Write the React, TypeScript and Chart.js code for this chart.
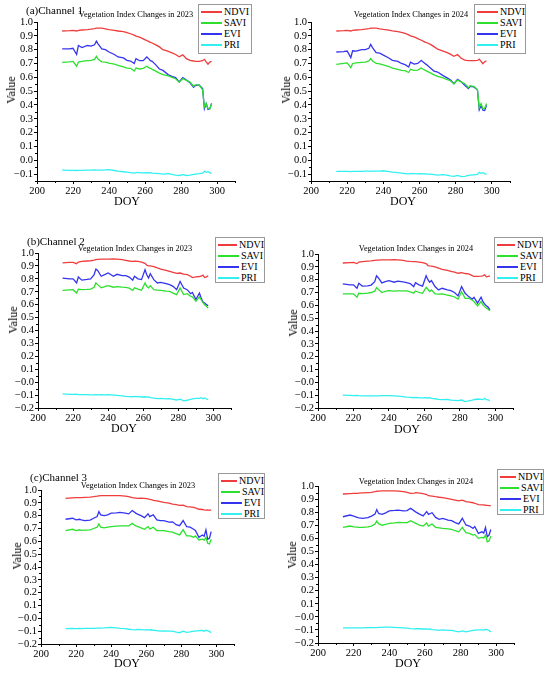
import { useEffect, useRef } from "react";
import { Chart, registerables } from "chart.js";

Chart.register(...registerables);

const FONT = "'Liberation Serif', 'Times New Roman', serif";
Chart.defaults.font.family = FONT;
Chart.defaults.color = "#000";

const SERIES = ["NDVI", "SAVI", "EVI", "PRI"];
const COLORS = ["#f03c3c", "#2ee02e", "#3535f0", "#33f0f0"];

const DOY = [
  214, 218, 220, 222, 223, 225, 228, 230, 232, 233, 234, 236, 238, 240, 243, 245, 248, 250, 252, 254,
  255, 257, 259, 261, 262, 263, 264, 266, 268, 270, 273, 275, 277, 279, 281, 283, 285, 287, 288, 290,
  292, 293, 294, 295, 296, 297,
];

// Channel 1, 2023
const CH1_2023_NDVI = [
  0.935, 0.937, 0.94, 0.935, 0.94, 0.942, 0.945, 0.948, 0.952, 0.955, 0.956, 0.955, 0.95, 0.945, 0.94, 0.935, 0.93, 0.923, 0.915, 0.905,
  0.898, 0.89, 0.878, 0.865, 0.86, 0.853, 0.848, 0.835, 0.82, 0.8, 0.787, 0.777, 0.765, 0.748, 0.762, 0.735, 0.722, 0.718, 0.715, 0.715,
  0.72, 0.73, 0.712, 0.695, 0.71, 0.715,
];
const CH1_2023_SAVI = [
  0.708, 0.712, 0.715, 0.68, 0.71, 0.715, 0.72, 0.722, 0.73, 0.752, 0.73, 0.712, 0.71, 0.703, 0.695, 0.687, 0.675, 0.667, 0.665, 0.645,
  0.667, 0.66, 0.665, 0.68, 0.67, 0.665, 0.657, 0.645, 0.63, 0.62, 0.61, 0.6, 0.59, 0.565, 0.59, 0.578, 0.566, 0.535, 0.545, 0.545,
  0.51, 0.385, 0.41, 0.375, 0.372, 0.41,
];
const CH1_2023_EVI = [
  0.805, 0.805, 0.81, 0.765, 0.83, 0.815, 0.83, 0.825, 0.835, 0.862, 0.84, 0.805, 0.8, 0.783, 0.765, 0.747, 0.74, 0.723, 0.718, 0.7,
  0.735, 0.72, 0.72, 0.747, 0.735, 0.72, 0.715, 0.69, 0.66, 0.65, 0.618, 0.607, 0.598, 0.566, 0.598, 0.58, 0.56, 0.527, 0.54, 0.545,
  0.518, 0.373, 0.41, 0.368, 0.372, 0.41,
];
const CH1_2023_PRI = [
  -0.072, -0.073, -0.073, -0.074, -0.073, -0.073, -0.072, -0.072, -0.07, -0.072, -0.071, -0.072, -0.07, -0.068, -0.074, -0.078, -0.083, -0.086, -0.089, -0.093,
  -0.09, -0.09, -0.091, -0.089, -0.092, -0.09, -0.093, -0.095, -0.097, -0.1, -0.097, -0.102, -0.107, -0.11, -0.104, -0.11, -0.108, -0.102, -0.1, -0.097,
  -0.093, -0.08, -0.087, -0.082, -0.09, -0.094,
];

// Channel 1, 2024
const CH1_2024_NDVI = [
  0.935, 0.937, 0.94, 0.935, 0.94, 0.942, 0.945, 0.948, 0.952, 0.955, 0.956, 0.955, 0.95, 0.946, 0.941, 0.936, 0.93, 0.925, 0.917, 0.907,
  0.9, 0.892, 0.88, 0.868, 0.862, 0.855, 0.85, 0.838, 0.822, 0.803, 0.79, 0.78, 0.768, 0.752, 0.765, 0.738, 0.725, 0.72, 0.72, 0.72,
  0.722, 0.732, 0.715, 0.698, 0.712, 0.72,
];
const CH1_2024_SAVI = [
  0.694, 0.7, 0.704, 0.67, 0.7, 0.705, 0.708, 0.71, 0.718, 0.735, 0.718, 0.7, 0.697, 0.69, 0.678, 0.667, 0.657, 0.65, 0.648, 0.635,
  0.658, 0.65, 0.652, 0.667, 0.658, 0.652, 0.645, 0.632, 0.618, 0.607, 0.596, 0.585, 0.575, 0.553, 0.58, 0.567, 0.554, 0.525, 0.538, 0.535,
  0.51, 0.38, 0.41, 0.373, 0.375, 0.41,
];
const CH1_2024_EVI = [
  0.783, 0.785, 0.79, 0.742, 0.792, 0.79, 0.8, 0.8, 0.81, 0.838, 0.815, 0.778, 0.775, 0.76, 0.74, 0.723, 0.715, 0.7, 0.692, 0.675,
  0.71, 0.695, 0.7, 0.723, 0.71, 0.7, 0.69, 0.668, 0.645, 0.638, 0.612, 0.598, 0.583, 0.554, 0.585, 0.568, 0.542, 0.518, 0.535, 0.53,
  0.51, 0.365, 0.398, 0.362, 0.36, 0.398,
];
const CH1_2024_PRI = [
  -0.08, -0.081, -0.08, -0.082, -0.08, -0.081, -0.08, -0.079, -0.078, -0.08, -0.078, -0.079, -0.078, -0.076, -0.082, -0.086, -0.09, -0.093, -0.096, -0.099,
  -0.097, -0.097, -0.098, -0.096, -0.099, -0.097, -0.1, -0.101, -0.104, -0.107, -0.104, -0.108, -0.113, -0.117, -0.11, -0.118, -0.116, -0.11, -0.108, -0.105,
  -0.102, -0.088, -0.095, -0.09, -0.097, -0.102,
];

// Channel 2, 2023
const CH2_2023_NDVI = [
  0.923, 0.927, 0.928, 0.917, 0.93, 0.935, 0.938, 0.94, 0.945, 0.948, 0.95, 0.952, 0.953, 0.953, 0.954, 0.953, 0.948, 0.943, 0.938, 0.935,
  0.936, 0.935, 0.93, 0.92, 0.905, 0.9, 0.9, 0.895, 0.885, 0.876, 0.866, 0.858, 0.85, 0.842, 0.845, 0.836, 0.832, 0.82, 0.81, 0.815,
  0.818, 0.82, 0.828, 0.81, 0.815, 0.824,
];
const CH2_2023_SAVI = [
  0.71, 0.714, 0.716, 0.69, 0.72, 0.716, 0.718, 0.72, 0.735, 0.768, 0.755, 0.73, 0.74, 0.747, 0.735, 0.74, 0.736, 0.734, 0.728, 0.71,
  0.73, 0.72, 0.712, 0.768, 0.74, 0.73, 0.747, 0.716, 0.712, 0.71, 0.705, 0.703, 0.69, 0.678, 0.73, 0.678, 0.685, 0.665, 0.66, 0.626,
  0.66, 0.638, 0.615, 0.6, 0.588, 0.574,
];
const CH2_2023_EVI = [
  0.806, 0.8, 0.8, 0.768, 0.814, 0.79, 0.795, 0.8, 0.832, 0.876, 0.865, 0.82, 0.832, 0.845, 0.82, 0.835, 0.825, 0.825, 0.814, 0.79,
  0.82, 0.8, 0.794, 0.871, 0.832, 0.806, 0.84, 0.794, 0.768, 0.773, 0.763, 0.755, 0.742, 0.716, 0.78, 0.729, 0.716, 0.685, 0.695, 0.64,
  0.69, 0.652, 0.62, 0.613, 0.6, 0.592,
];
const CH2_2023_PRI = [
  -0.09, -0.094, -0.095, -0.093, -0.096, -0.097, -0.097, -0.098, -0.098, -0.097, -0.098, -0.097, -0.098, -0.097, -0.1, -0.102, -0.106, -0.11, -0.112, -0.113,
  -0.11, -0.112, -0.115, -0.113, -0.116, -0.114, -0.12, -0.124, -0.127, -0.126, -0.13, -0.128, -0.133, -0.138, -0.132, -0.145, -0.14, -0.133, -0.13, -0.125,
  -0.125, -0.12, -0.128, -0.122, -0.13, -0.136,
];

// Channel 2, 2024
const CH2_2024_NDVI = [
  0.93, 0.933, 0.935, 0.925, 0.937, 0.94, 0.944, 0.946, 0.95, 0.952, 0.953, 0.954, 0.955, 0.955, 0.956, 0.955, 0.95, 0.945, 0.942, 0.94,
  0.94, 0.937, 0.933, 0.925, 0.91, 0.907, 0.906, 0.9, 0.89, 0.88, 0.872, 0.865, 0.858, 0.85, 0.855, 0.848, 0.845, 0.832, 0.825, 0.825,
  0.828, 0.83, 0.838, 0.822, 0.825, 0.83,
];
const CH2_2024_SAVI = [
  0.69, 0.69, 0.69, 0.663, 0.694, 0.692, 0.695, 0.7, 0.71, 0.738, 0.725, 0.7, 0.708, 0.715, 0.71, 0.712, 0.712, 0.713, 0.705, 0.694,
  0.712, 0.7, 0.694, 0.74, 0.725, 0.707, 0.72, 0.69, 0.688, 0.69, 0.68, 0.673, 0.665, 0.648, 0.707, 0.655, 0.655, 0.64, 0.63, 0.596,
  0.63, 0.604, 0.59, 0.578, 0.57, 0.558,
];
const CH2_2024_EVI = [
  0.767, 0.76, 0.76, 0.733, 0.772, 0.75, 0.752, 0.758, 0.785, 0.83, 0.815, 0.775, 0.785, 0.793, 0.78, 0.788, 0.782, 0.777, 0.77, 0.746,
  0.777, 0.76, 0.75, 0.83, 0.8, 0.78, 0.793, 0.746, 0.72, 0.733, 0.72, 0.715, 0.7, 0.673, 0.746, 0.694, 0.668, 0.648, 0.663, 0.617,
  0.663, 0.63, 0.61, 0.596, 0.585, 0.565,
];
const CH2_2024_PRI = [
  -0.1, -0.102, -0.103, -0.101, -0.104, -0.105, -0.105, -0.105, -0.106, -0.105, -0.105, -0.104, -0.104, -0.103, -0.106, -0.108, -0.112, -0.115, -0.117, -0.12,
  -0.118, -0.12, -0.121, -0.12, -0.122, -0.12, -0.125, -0.128, -0.132, -0.135, -0.133, -0.138, -0.14, -0.143, -0.138, -0.15, -0.145, -0.138, -0.134, -0.13,
  -0.132, -0.135, -0.125, -0.135, -0.137, -0.142,
];

// Channel 3, 2023
const CH3_2023_NDVI = [
  0.935, 0.938, 0.94, 0.94, 0.941, 0.943, 0.945, 0.948, 0.952, 0.955, 0.956, 0.956, 0.956, 0.956, 0.956, 0.956, 0.953, 0.948, 0.94, 0.937,
  0.935, 0.936, 0.935, 0.93, 0.927, 0.925, 0.92, 0.915, 0.91, 0.904, 0.897, 0.89, 0.886, 0.88, 0.882, 0.87, 0.868, 0.865, 0.86, 0.85,
  0.848, 0.845, 0.843, 0.845, 0.842, 0.845,
];
const CH3_2023_SAVI = [
  0.684, 0.694, 0.684, 0.69, 0.686, 0.688, 0.69, 0.7, 0.71, 0.736, 0.71, 0.705, 0.71, 0.715, 0.718, 0.72, 0.72, 0.72, 0.74, 0.72,
  0.716, 0.705, 0.694, 0.715, 0.697, 0.703, 0.71, 0.684, 0.684, 0.684, 0.676, 0.672, 0.66, 0.65, 0.69, 0.642, 0.642, 0.632, 0.642, 0.611,
  0.617, 0.61, 0.632, 0.585, 0.58, 0.617,
];
const CH3_2023_EVI = [
  0.772, 0.78, 0.767, 0.772, 0.768, 0.762, 0.765, 0.78, 0.793, 0.832, 0.806, 0.8, 0.806, 0.82, 0.822, 0.825, 0.82, 0.814, 0.84, 0.82,
  0.812, 0.8, 0.785, 0.815, 0.793, 0.8, 0.806, 0.767, 0.762, 0.762, 0.75, 0.752, 0.73, 0.722, 0.762, 0.715, 0.71, 0.694, 0.684, 0.632,
  0.65, 0.64, 0.69, 0.617, 0.624, 0.676,
];
const CH3_2023_PRI = [
  -0.08, -0.079, -0.08, -0.079, -0.08, -0.079, -0.078, -0.078, -0.076, -0.077, -0.076, -0.075, -0.073, -0.071, -0.075, -0.078, -0.08, -0.085, -0.088, -0.09,
  -0.086, -0.088, -0.09, -0.088, -0.091, -0.089, -0.093, -0.096, -0.1, -0.097, -0.1, -0.1, -0.108, -0.112, -0.1, -0.11, -0.106, -0.1, -0.1, -0.096,
  -0.095, -0.1, -0.092, -0.097, -0.102, -0.113,
];

// Channel 3, 2024
const CH3_2024_NDVI = [
  0.939, 0.942, 0.944, 0.944, 0.945, 0.947, 0.95, 0.952, 0.957, 0.96, 0.961, 0.962, 0.962, 0.962, 0.962, 0.961, 0.957, 0.952, 0.944, 0.946,
  0.949, 0.946, 0.942, 0.935, 0.926, 0.925, 0.923, 0.918, 0.914, 0.911, 0.904, 0.898, 0.892, 0.886, 0.892, 0.88, 0.876, 0.872, 0.868, 0.857,
  0.855, 0.855, 0.853, 0.852, 0.85, 0.85,
];
const CH3_2024_SAVI = [
  0.684, 0.694, 0.688, 0.686, 0.684, 0.684, 0.688, 0.694, 0.71, 0.732, 0.712, 0.7, 0.706, 0.714, 0.718, 0.722, 0.72, 0.72, 0.735, 0.72,
  0.714, 0.7, 0.694, 0.718, 0.694, 0.702, 0.71, 0.684, 0.68, 0.676, 0.672, 0.668, 0.658, 0.65, 0.684, 0.643, 0.638, 0.625, 0.63, 0.6,
  0.607, 0.603, 0.625, 0.574, 0.58, 0.617,
];
const CH3_2024_EVI = [
  0.765, 0.778, 0.77, 0.76, 0.757, 0.753, 0.758, 0.77, 0.786, 0.82, 0.79, 0.783, 0.795, 0.81, 0.813, 0.816, 0.81, 0.812, 0.83, 0.81,
  0.8, 0.785, 0.772, 0.805, 0.783, 0.79, 0.796, 0.76, 0.745, 0.753, 0.74, 0.735, 0.72, 0.71, 0.753, 0.702, 0.694, 0.676, 0.69, 0.638,
  0.65, 0.64, 0.683, 0.612, 0.625, 0.668,
];
const CH3_2024_PRI = [
  -0.085, -0.085, -0.084, -0.085, -0.084, -0.084, -0.083, -0.083, -0.082, -0.082, -0.081, -0.08, -0.079, -0.078, -0.08, -0.082, -0.085, -0.087, -0.09, -0.092,
  -0.09, -0.091, -0.093, -0.092, -0.095, -0.093, -0.097, -0.099, -0.103, -0.1, -0.103, -0.103, -0.11, -0.115, -0.107, -0.115, -0.11, -0.104, -0.102, -0.1,
  -0.1, -0.102, -0.096, -0.098, -0.104, -0.115,
];

type Box = { l: number; t: number; w: number; h: number };
type PanelSpec = {
  values: number[][];
  yMin: number;
  plot: { left: number; top: number; right: number; bottom: number };
  label?: { text: string; x: number; y: number };
  title: { text: string; x: number; y: number };
  legend: Box;
  doy: { x: number; y: number };
  value: { x: number; y: number };
};

const PANELS: PanelSpec[] = [
  {
    values: [CH1_2023_NDVI, CH1_2023_SAVI, CH1_2023_EVI, CH1_2023_PRI],
    yMin: -0.15,
    plot: { left: 37, top: 22, right: 235, bottom: 181 },
    label: { text: "(a)Channel 1", x: 26, y: 10 },
    title: { text: "Vegetation Index Changes in 2023", x: 136, y: 15 },
    legend: { l: 198, t: 4, w: 54, h: 50 },
    doy: { x: 127, y: 201 },
    value: { x: 11, y: 90 },
  },
  {
    values: [CH1_2024_NDVI, CH1_2024_SAVI, CH1_2024_EVI, CH1_2024_PRI],
    yMin: -0.15,
    plot: { left: 311, top: 22, right: 510, bottom: 181 },
    title: { text: "Vegetation Index Changes in 2024", x: 411, y: 15 },
    legend: { l: 474, t: 4, w: 52, h: 50 },
    doy: { x: 403, y: 201 },
    value: { x: 286, y: 90 },
  },
  {
    values: [CH2_2023_NDVI, CH2_2023_SAVI, CH2_2023_EVI, CH2_2023_PRI],
    yMin: -0.2,
    plot: { left: 38, top: 253, right: 231, bottom: 408 },
    label: { text: "(b)Channel 2", x: 27, y: 241 },
    title: { text: "Vegetation Index Changes in 2023", x: 135, y: 249 },
    legend: { l: 215, t: 237, w: 50, h: 46 },
    doy: { x: 124, y: 428 },
    value: { x: 13, y: 320 },
  },
  {
    values: [CH2_2024_NDVI, CH2_2024_SAVI, CH2_2024_EVI, CH2_2024_PRI],
    yMin: -0.2,
    plot: { left: 318, top: 254, right: 513, bottom: 408 },
    title: { text: "Vegetation Index Changes in 2024", x: 416, y: 249 },
    legend: { l: 494, t: 237, w: 49, h: 46 },
    doy: { x: 407, y: 429 },
    value: { x: 293, y: 323 },
  },
  {
    values: [CH3_2023_NDVI, CH3_2023_SAVI, CH3_2023_EVI, CH3_2023_PRI],
    yMin: -0.2,
    plot: { left: 41, top: 490, right: 234, bottom: 644 },
    label: { text: "(c)Channel 3", x: 30, y: 477 },
    title: { text: "Vegetation Index Changes in 2023", x: 138, y: 486 },
    legend: { l: 218, t: 473, w: 47, h: 46 },
    doy: { x: 127, y: 663 },
    value: { x: 17, y: 556 },
  },
  {
    values: [CH3_2024_NDVI, CH3_2024_SAVI, CH3_2024_EVI, CH3_2024_PRI],
    yMin: -0.2,
    plot: { left: 318, top: 486, right: 514, bottom: 643 },
    title: { text: "Vegetation Index Changes in 2024", x: 416, y: 482 },
    legend: { l: 497, t: 469, w: 47, h: 46 },
    doy: { x: 408, y: 663 },
    value: { x: 292, y: 555 },
  },
];

// short minor ticks at the half steps, like Origin draws them
const minorTicks = {
  id: "minorTicks",
  afterDraw(chart: any) {
    const { ctx, chartArea: a } = chart;
    const x = chart.scales.x;
    const y = chart.scales.y;
    ctx.save();
    ctx.strokeStyle = "#000";
    ctx.lineWidth = 1;
    ctx.beginPath();
    for (let v = 210; v <= 310; v += 20) {
      const px = Math.round(x.getPixelForValue(v)) + 0.5;
      ctx.moveTo(px, a.bottom);
      ctx.lineTo(px, a.bottom + 2);
    }
    for (let k = -2; k < 10; k++) {
      const v = (k + 0.5) / 10;
      if (v < y.min - 1e-9) continue;
      const py = Math.round(y.getPixelForValue(v)) + 0.5;
      ctx.moveTo(a.left, py);
      ctx.lineTo(a.left - 2, py);
    }
    ctx.stroke();
    ctx.restore();
  },
};

const L = 34;
const T = 8;
const R = 8;
const B = 24;

function Panel({ p }: { p: PanelSpec }) {
  const canvasRef = useRef<HTMLCanvasElement>(null);
  const w = p.plot.right - p.plot.left + L + R;
  const h = p.plot.bottom - p.plot.top + T + B;

  useEffect(() => {
    if (!canvasRef.current) return;
    const chart = new Chart(canvasRef.current, {
      type: "line",
      data: {
        datasets: SERIES.map((name, i) => ({
          label: name,
          data: DOY.map((d, j) => ({ x: d, y: p.values[i][j] })),
          borderColor: COLORS[i],
          backgroundColor: COLORS[i],
          borderWidth: 1.3,
          pointRadius: 0,
          tension: 0,
        })),
      },
      options: {
        animation: false,
        responsive: false,
        events: [],
        layout: { padding: { left: 0, top: T, right: R, bottom: 0 } },
        plugins: { legend: { display: false }, tooltip: { enabled: false } },
        scales: {
          x: {
            type: "linear",
            min: 200,
            max: 310,
            afterFit: (s: any) => {
              s.height = B;
            },
            afterBuildTicks: (s: any) => {
              s.ticks = s.ticks.filter((t: any) => Math.round(t.value) % 20 === 0);
            },
            ticks: { stepSize: 20, includeBounds: false, padding: 1, maxRotation: 0, autoSkip: false, font: { size: 10.5 } },
            grid: { drawOnChartArea: false, tickLength: 3, color: "#000" },
            border: { color: "#000", width: 1 },
          },
          y: {
            min: p.yMin,
            max: 1.0,
            afterFit: (s: any) => {
              s.width = L;
            },
            afterBuildTicks: (s: any) => {
              s.ticks = s.ticks.filter((t: any) => Math.abs(t.value * 10 - Math.round(t.value * 10)) < 1e-6);
            },
            ticks: {
              stepSize: 0.1,
              includeBounds: false,
              padding: 1,
              autoSkip: false,
              font: { size: 10.5 },
              callback: (v: any) => {
                const s = Number(v).toFixed(1);
                return s.startsWith("-") ? "\u2212" + s.slice(1) : s;
              },
            },
            grid: { drawOnChartArea: false, tickLength: 3, color: "#000" },
            border: { color: "#000", width: 1 },
          },
        },
      },
      plugins: [minorTicks],
    });

    return () => {
      chart.destroy();
    };
  }, [p]);

  const serif = { fontFamily: FONT, color: "#000", whiteSpace: "nowrap" as const, lineHeight: 1 };

  return (
    <>
      <canvas
        ref={canvasRef}
        width={w}
        height={h}
        style={{ position: "absolute", left: p.plot.left - L, top: p.plot.top - T, width: w, height: h }}
      />
      {p.label && (
        <div style={{ ...serif, position: "absolute", left: p.label.x, top: p.label.y, transform: "translateY(-50%)", fontSize: 11 }}>
          {p.label.text}
        </div>
      )}
      <div style={{ ...serif, position: "absolute", left: p.title.x, top: p.title.y, transform: "translate(-50%,-50%)", fontSize: 8.3 }}>
        {p.title.text}
      </div>
      <div style={{ ...serif, position: "absolute", left: p.doy.x, top: p.doy.y, transform: "translate(-50%,-50%)", fontSize: 12 }}>
        DOY
      </div>
      <div
        style={{ ...serif, position: "absolute", left: p.value.x, top: p.value.y, transform: "translate(-50%,-50%) rotate(-90deg)", fontSize: 12 }}
      >
        Value
      </div>
      <div
        style={{
          position: "absolute",
          left: p.legend.l,
          top: p.legend.t,
          width: p.legend.w,
          height: p.legend.h,
          boxSizing: "border-box",
          border: "1px solid #999",
          background: "#fff",
          paddingTop: 1,
        }}
      >
        {SERIES.map((name, i) => (
          <div key={name} style={{ display: "flex", alignItems: "center", height: 11 }}>
            <div style={{ width: 21, height: 2, marginLeft: 2, background: COLORS[i] }} />
            <div style={{ ...serif, fontSize: 10, marginLeft: 2 }}>{name}</div>
          </div>
        ))}
      </div>
    </>
  );
}

export default function App() {
  return (
    <div style={{ position: "absolute", left: 0, top: 0, width: 550, height: 673, background: "#fff", overflow: "hidden" }}>
      {PANELS.map((p, i) => (
        <Panel key={i} p={p} />
      ))}
    </div>
  );
}
